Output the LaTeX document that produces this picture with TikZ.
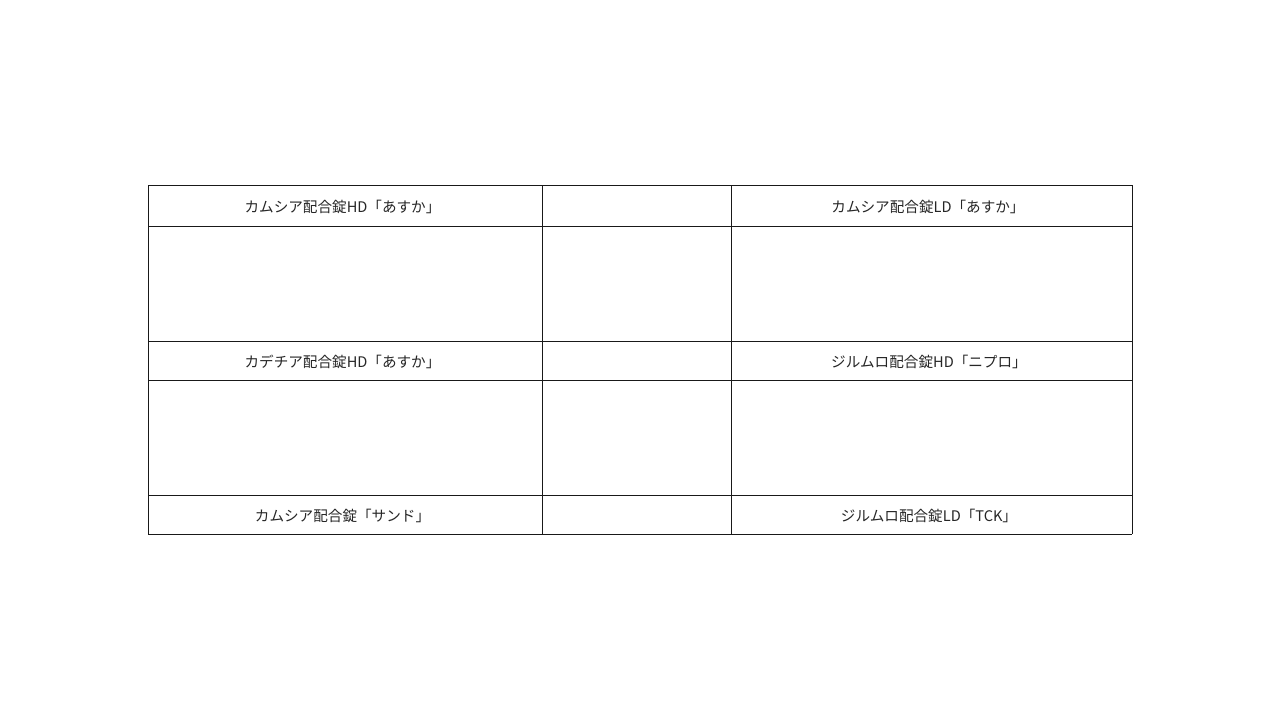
\documentclass[tikz,border=0pt]{standalone}
\usepackage{fontspec}
\newfontfamily\jp{Noto Sans CJK JP}
\begin{document}
\begin{tikzpicture}[x=1pt,y=-1pt,
  cell/.style={font=\jp\fontsize{14.6}{17}\selectfont, text=black!85, anchor=center, inner sep=0pt},
  grid/.style={line width=1pt, draw=black!90}]
\useasboundingbox (0,0) rectangle (1280,720);
\fill[white] (0,0) rectangle (1280,720);
% horizontal lines
\foreach \y in {185,226,341,380,495,534} {\draw[grid] (148,\y) -- (1132,\y);}
% vertical lines
\foreach \x in {148,542,731,1132} {\draw[grid] (\x,185) -- (\x,534);}
% texts
\node[cell] (a1) at (342.5,206.5) {カムシア配合錠HD「あすか」};
\node[cell] (b1) at (928,206.5) {カムシア配合錠LD「あすか」};
\node[cell] (a2) at (342.5,361.5) {カデチア配合錠HD「あすか」};
\node[cell] (b2) at (929,361.5) {ジルムロ配合錠HD「ニプロ」};
\node[cell] (a3) at (342.5,515.5) {カムシア配合錠「サンド」};
\node[cell] (b3) at (929,515.5) {ジルムロ配合錠LD「TCK」};
\end{tikzpicture}
\end{document}
